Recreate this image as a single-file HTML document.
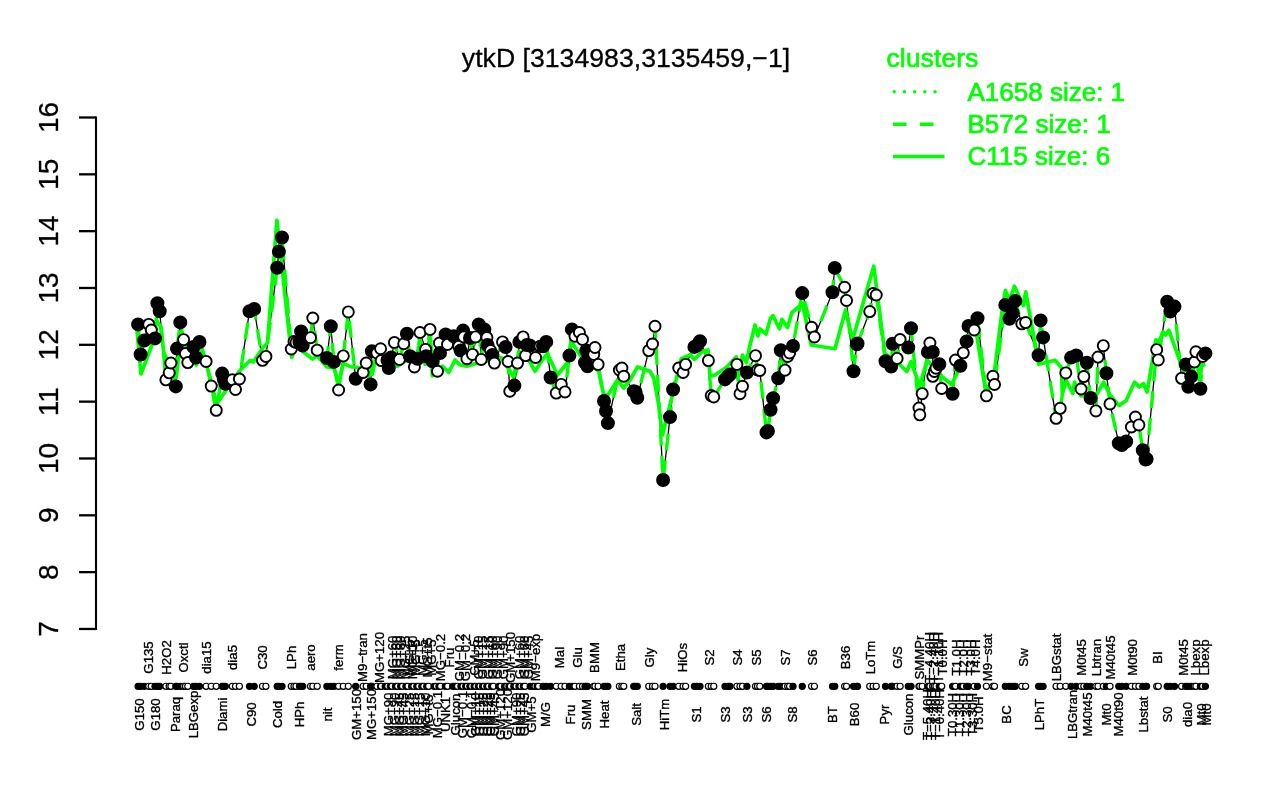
<!DOCTYPE html><html><head><meta charset="utf-8"><title>ytkD</title>
<style>html,body{margin:0;padding:0;background:#fff}svg{display:block}text{font-family:"Liberation Sans",Arial,Helvetica,sans-serif}.l{font-size:13.2px;fill:#000;stroke:#000;stroke-width:.35px}.a{font-size:28px;fill:#000;stroke:#000;stroke-width:.3px}.t{font-size:26.67px;fill:#000;stroke:#000;stroke-width:.3px}.g{font-size:26px;fill:#00ff00;stroke:#00ff00;stroke-width:.7px}</style></head><body>
<svg width="1280" height="800" viewBox="0 0 1280 800">
<rect width="1280" height="800" fill="#fff"/>
<text class="t" x="626" y="67.3" text-anchor="middle">ytkD [3134983,3135459,−1]</text>
<g stroke="#000" stroke-width="2.3" fill="none" stroke-linecap="butt">
<path d="M96 116.5 V629.97" stroke-width="2.1"/>
<path d="M79 117.5 H96"/>
<path d="M79 174.33 H96"/>
<path d="M79 231.16 H96"/>
<path d="M79 287.99 H96"/>
<path d="M79 344.82 H96"/>
<path d="M79 401.65 H96"/>
<path d="M79 458.48 H96"/>
<path d="M79 515.31 H96"/>
<path d="M79 572.14 H96"/>
<path d="M79 628.97 H96"/>
</g>
<text class="a" transform="translate(58.4 117.5) rotate(-90)" text-anchor="middle">16</text>
<text class="a" transform="translate(58.4 174.33) rotate(-90)" text-anchor="middle">15</text>
<text class="a" transform="translate(58.4 231.16) rotate(-90)" text-anchor="middle">14</text>
<text class="a" transform="translate(58.4 287.99) rotate(-90)" text-anchor="middle">13</text>
<text class="a" transform="translate(58.4 344.82) rotate(-90)" text-anchor="middle">12</text>
<text class="a" transform="translate(58.4 401.65) rotate(-90)" text-anchor="middle">11</text>
<text class="a" transform="translate(58.4 458.48) rotate(-90)" text-anchor="middle">10</text>
<text class="a" transform="translate(58.4 515.31) rotate(-90)" text-anchor="middle">9</text>
<text class="a" transform="translate(58.4 572.14) rotate(-90)" text-anchor="middle">8</text>
<text class="a" transform="translate(58.4 628.97) rotate(-90)" text-anchor="middle">7</text>
<text class="g" x="886.5" y="67" style="letter-spacing:.3px">clusters</text>
<text class="g" x="967.5" y="101.2">A1658 size: 1</text>
<text class="g" x="967.5" y="133">B572 size: 1</text>
<text class="g" x="967.5" y="165">C115 size: 6</text>
<g stroke="#00ff00" fill="none">
<path d="M894.2 91.8 H936" stroke-width="3.5" stroke-dasharray="0.01 10.2" stroke-linecap="round"/>
<path d="M893 124.3 H944.5" stroke-width="3.4" stroke-dasharray="13.5 13.5"/>
<path d="M893 156.5 H944.5" stroke-width="3.4"/>
</g>
<polyline points="138.1,324.4 140.6,354.5 144.2,340.5 148.75,324.4 151.3,330 155,338.4 157.4,303.3 159.7,311.2 165.9,379.8 169.2,372.8 170.9,363 175.8,386.4 177,348.6 180.3,322.4 183.6,339.7 185.5,353.6 187.8,362.6 193.5,347 196,357.5 199.5,342 206.1,361.4 211.25,386.1 216.25,410.3 222.2,373.6 223.75,379 225.3,383.75 232.3,379.8 235.5,389.5 239.4,379 249.5,311.2 254.2,309 262.5,360.3 265.9,356.4 277.2,267.7 278.9,251.6 282,237.5 291.3,349 294,341.5 296,342.5 299.5,342.3 301.1,331.4 302.7,345.5 310.5,337.7 312.8,318.1 317.2,350.2 326.9,358 330.8,326.25 333.9,361.9 338.6,390 343.3,355.9 348.3,311.9 355.7,378.75 363.1,372.5 366.25,363.1 370.6,384.4 371.9,351.25 376.9,353 380.6,348.75 381.25,360.6 387.5,360 388.75,368 391.25,357.5 394.4,342.5 399.4,359.4 403.75,343.75 406.9,333.75 410,356.25 414.4,366.9 417.5,358.75 420,332.5 425.6,349.4 426.25,356.25 430,329.4 432.5,361.25 437.5,371.25 439.4,343 440,353 445.6,334.4 447.5,344.4 453.75,336.25 458.75,346.25 460.6,350.6 463.1,330.6 463.75,336.9 466.9,358.75 470,338 472.5,354.4 475.6,336.9 478.75,324.4 481.25,359.4 484.4,329.4 486.9,337.5 487.5,345 490.6,350.6 492.5,355 494.4,363.1 502.5,341.9 505.6,347 508.1,361.5 509.8,391.25 514.4,385.6 517.5,363.1 519.4,341.9 523.1,336.9 525.6,355.6 526.9,345 530,345.6 535.6,357.5 540,346.25 543.1,346.25 546.25,341.9 550.6,377.5 556.25,393.1 561.25,384.4 565,391.9 569.4,355.6 571.9,329.4 575,336.25 579.4,332.5 582.5,339.4 585,362.5 586.25,350.6 587.5,366.25 593.75,354.4 595,347.5 598.1,364.4 604,401 606,411 607.9,423.1 619.4,370 621.9,368 623.75,376.25 633.75,391.25 635.6,391.9 637.3,397.8 648.75,350.6 652.5,344 655,326.25 663.1,480 670,417.1 673.1,389.5 678.75,368 683.1,372.5 685.6,364.4 694.4,346.9 696.9,345.6 700,341.25 708.4,360.6 711.25,395.6 713.75,396.9 725,379.4 728.1,376.25 730,374.4 736.9,364.4 740,393.75 742.5,386.25 746.9,372.5 755.5,355.7 757.5,370 759.8,370.5 766.5,432.4 767.9,431 770.6,409.7 773.1,398.3 778.2,378.3 780.8,350.3 785,370.2 787.7,356.5 789.6,353 793,346 802.25,293.1 811.6,327.25 814.4,337 832.5,292.25 834.75,267.9 844.6,287.25 846.5,300.4 853.5,371.2 856.9,344.2 857.5,343.5 869.75,311.6 873.1,293.5 876.25,295 885.5,361.2 891.2,366.5 892.6,343.7 897.1,358.4 900.1,339.5 908.3,347.5 911,328.3 919,408 919.8,414.8 922.2,393.7 927.9,352 929.9,343 932.8,352 932.8,376.3 934.4,371.5 936,368.2 939.3,364.2 941.7,388.5 952.6,393.7 955.5,360.1 960.4,365.8 963.3,352.8 966.6,341.4 968.5,326 974.2,330 977.5,318.2 986.4,395.8 992.9,376.3 994.5,384.5 1005.3,304.9 1009.5,318.7 1012.7,313 1015.2,300.9 1021.8,323.8 1025.6,322.6 1038.6,355.3 1040.6,320.4 1043.1,337.4 1056.1,418.3 1060.2,408.3 1065.8,372.9 1071.1,357.6 1076.2,355.5 1081.1,389 1083.8,376.6 1086.8,362.7 1090.6,398 1095.9,410.9 1098,357.1 1103.3,345.7 1106.4,373.2 1110,403.9 1118.8,443.3 1121.8,445 1126.2,441.5 1131.4,427 1135.4,417 1138.9,424.9 1142.8,450.3 1145.5,459.5 1146.6,459 1156.7,349.7 1158.3,359.9 1167.2,301.7 1170.4,311.5 1174.5,306.6 1181.6,378.3 1185.8,364.4 1188.3,386.7 1191.2,376.6 1194.5,361.9 1195.9,351.8 1200.4,388.7 1202.6,356.4 1205.4,353.4" fill="none" stroke="#000" stroke-width="1.3" stroke-linejoin="round"/>
<polyline points="138.1,324.4 140.6,354.5 144.2,340.5 148.75,324.4 151.3,330 155,338.4 157.4,303.3 159.7,311.2 165.9,379.8 169.2,372.8 170.9,363 175.8,386.4 177,348.6 180.3,322.4 183.6,339.7 185.5,353.6 187.8,362.6 193.5,347 196,357.5 199.5,342 206.1,361.4 211.25,386.1 216.25,410.3 222.2,373.6 223.75,379 225.3,383.75 232.3,379.8 235.5,389.5 239.4,379 249.5,311.2 254.2,309 262.5,360.3 265.9,356.4 277.2,267.7 278.9,251.6 282,237.5 291.3,349 294,341.5 296,342.5 299.5,342.3 301.1,331.4 302.7,345.5 310.5,337.7 312.8,318.1 317.2,350.2 326.9,358 330.8,326.25 333.9,361.9 338.6,390 343.3,355.9 348.3,311.9 355.7,378.75 363.1,372.5 366.25,363.1 370.6,384.4 371.9,351.25 376.9,353 380.6,348.75 381.25,360.6 387.5,360 388.75,368 391.25,357.5 394.4,342.5 399.4,359.4 403.75,343.75 406.9,333.75 410,356.25 414.4,366.9 417.5,358.75 420,332.5 425.6,349.4 426.25,356.25 430,329.4 432.5,361.25 437.5,371.25 439.4,343 440,353 445.6,334.4 447.5,344.4 453.75,336.25 458.75,346.25 460.6,350.6 463.1,330.6 463.75,336.9 466.9,358.75 470,338 472.5,354.4 475.6,336.9 478.75,324.4 481.25,359.4 484.4,329.4 486.9,337.5 487.5,345 490.6,350.6 492.5,355 494.4,363.1 502.5,341.9 505.6,347 508.1,361.5 509.8,391.25 514.4,385.6 517.5,363.1 519.4,341.9 523.1,336.9 525.6,355.6 526.9,345 530,345.6 535.6,357.5 540,346.25 543.1,346.25 546.25,341.9 550.6,377.5 556.25,393.1 561.25,384.4 565,391.9 569.4,355.6 571.9,329.4 575,336.25 579.4,332.5 582.5,339.4 585,362.5 586.25,350.6 587.5,366.25 593.75,354.4 595,347.5 598.1,364.4 604,401 606,411 607.9,423.1 619.4,370 621.9,368 623.75,376.25 633.75,391.25 635.6,391.9 637.3,397.8 648.75,350.6 652.5,344 655,326.25 663.1,480 670,417.1 673.1,389.5 678.75,368 683.1,372.5 685.6,364.4 694.4,346.9 696.9,345.6 700,341.25 708.4,360.6 711.25,395.6 713.75,396.9 725,379.4 728.1,376.25 730,374.4 736.9,364.4 740,393.75 742.5,386.25 746.9,372.5 755.5,355.7 757.5,370 759.8,370.5 766.5,432.4 767.9,431 770.6,409.7 773.1,398.3 778.2,378.3 780.8,350.3 785,370.2 787.7,356.5 789.6,353 793,346 802.25,293.1 811.6,327.25 814.4,337 832.5,292.25 834.75,267.9 844.6,287.25 846.5,300.4 853.5,371.2 856.9,344.2 857.5,343.5 869.75,311.6 873.1,293.5 876.25,295 885.5,361.2 891.2,366.5 892.6,343.7 897.1,358.4 900.1,339.5 908.3,347.5 911,328.3 919,408 919.8,414.8 922.2,393.7 927.9,352 929.9,343 932.8,352 932.8,376.3 934.4,371.5 936,368.2 939.3,364.2 941.7,388.5 952.6,393.7 955.5,360.1 960.4,365.8 963.3,352.8 966.6,341.4 968.5,326 974.2,330 977.5,318.2 986.4,395.8 992.9,376.3 994.5,384.5 1005.3,304.9 1009.5,318.7 1012.7,313 1015.2,300.9 1021.8,323.8 1025.6,322.6 1038.6,355.3 1040.6,320.4 1043.1,337.4 1056.1,418.3 1060.2,408.3 1065.8,372.9 1071.1,357.6 1076.2,355.5 1081.1,389 1083.8,376.6 1086.8,362.7 1090.6,398 1095.9,410.9 1098,357.1 1103.3,345.7 1106.4,373.2 1110,403.9 1118.8,443.3 1121.8,445 1126.2,441.5 1131.4,427 1135.4,417 1138.9,424.9 1142.8,450.3 1145.5,459.5 1146.6,459 1156.7,349.7 1158.3,359.9 1167.2,301.7 1170.4,311.5 1174.5,306.6 1181.6,378.3 1185.8,364.4 1188.3,386.7 1191.2,376.6 1194.5,361.9 1195.9,351.8 1200.4,388.7 1202.6,356.4 1205.4,353.4" fill="none" stroke="#00ff00" stroke-width="3.4" stroke-dasharray="16.9 10.1" stroke-linejoin="round"/>
<polyline points="137,330 141,374 151.9,345 156.25,320 160.6,326.25 163.75,352.5 176.25,377.5 181.25,331.25 185.6,347.5 196.25,365 202.5,350 210,377.5 216.7,404 239.4,371 250.3,360.3 253.4,361.9 262.8,347.8 267.5,343 276.9,220.3 291.7,357.2 297.2,344.7 303.4,352 312.5,359 317.5,356 326.9,367 333.9,368 338.6,383.75 343.3,363.4 350.3,366.6 358.75,367.5 372.2,374.4 375.3,360.3 397.5,366.3 417.5,352.5 420.3,340 425.2,364.4 430.5,338 432.4,376 442.5,366.25 448.75,372.5 455,360 460,365 466.9,366.25 475,363.75 501.25,357.5 508.75,368.75 513.75,377.5 518.75,351.25 529.4,361.25 535,371.25 543.1,358.75 547.5,353.75 557.5,375 567.5,362.5 571.25,341.25 580,355 598.75,371.25 603.75,395 608,395 617.5,380 623.75,388 630,380 637.5,366.9 650,371.25 653.75,378 658.75,405 662.5,435 668.75,410 681.25,358.75 690,355 694.4,359.4 702.5,351.25 708,350 710,376.25 715,375 726.25,367.5 736.25,356.9 738,380 742.5,355 746.25,362.5 750,345 755,325 758,336 760,329 766,334 770.6,318 773,315.6 779.4,328.75 781.9,319.4 787.5,327.5 791.9,312.5 802.5,303.75 811.25,345 835,348.75 845.6,310 852.5,340 873.75,266.25 884.9,353.6 900.3,365 906.8,371.5 910.9,361.7 919.8,386 927.1,360.1 941.7,376.3 951.5,384.5 958,371.5 966,337.4 975.8,329.2 985.6,391 993.7,378 1001.8,313 1005.4,290.3 1009.5,300.9 1014.4,286.2 1023.3,305.7 1025.7,291.9 1038.7,364.2 1055,360.2 1061.5,367.5 1062.3,393.5 1066.3,380.5 1072.8,393.5 1074.5,382.1 1081,396 1097.2,393.5 1103.7,382.1 1110.2,395.1 1119.2,405.6 1126.2,400.4 1134.6,382.1 1139.4,387 1143.5,383.7 1147.2,392 1155.8,339.9 1159,341.5 1163.1,331.8 1165.5,335 1168.8,330.2 1183.4,370.8 1192,368 1199.7,380.6 1201.3,366 1205.4,364.3" fill="none" stroke="#00ff00" stroke-width="3.7" stroke-linejoin="round"/>
<g stroke="#000" stroke-width="1.9">
<circle cx="138.1" cy="324.4" r="6.05" fill="#000"/>
<circle cx="140.6" cy="354.5" r="6.05" fill="#000"/>
<circle cx="144.2" cy="340.5" r="6.05" fill="#000"/>
<circle cx="148.75" cy="324.4" r="5.55" fill="#fff"/>
<circle cx="151.3" cy="330" r="5.55" fill="#fff"/>
<circle cx="155" cy="338.4" r="6.05" fill="#000"/>
<circle cx="157.4" cy="303.3" r="6.05" fill="#000"/>
<circle cx="159.7" cy="311.2" r="6.05" fill="#000"/>
<circle cx="165.9" cy="379.8" r="5.55" fill="#fff"/>
<circle cx="169.2" cy="372.8" r="5.55" fill="#fff"/>
<circle cx="170.9" cy="363" r="5.55" fill="#fff"/>
<circle cx="175.8" cy="386.4" r="6.05" fill="#000"/>
<circle cx="177" cy="348.6" r="6.05" fill="#000"/>
<circle cx="180.3" cy="322.4" r="6.05" fill="#000"/>
<circle cx="183.6" cy="339.7" r="5.55" fill="#fff"/>
<circle cx="185.5" cy="353.6" r="5.55" fill="#fff"/>
<circle cx="187.8" cy="362.6" r="5.55" fill="#fff"/>
<circle cx="193.5" cy="347" r="6.05" fill="#000"/>
<circle cx="196" cy="357.5" r="6.05" fill="#000"/>
<circle cx="199.5" cy="342" r="6.05" fill="#000"/>
<circle cx="206.1" cy="361.4" r="5.55" fill="#fff"/>
<circle cx="211.25" cy="386.1" r="5.55" fill="#fff"/>
<circle cx="216.25" cy="410.3" r="5.55" fill="#fff"/>
<circle cx="222.2" cy="373.6" r="6.05" fill="#000"/>
<circle cx="223.75" cy="379" r="6.05" fill="#000"/>
<circle cx="225.3" cy="383.75" r="6.05" fill="#000"/>
<circle cx="232.3" cy="379.8" r="5.55" fill="#fff"/>
<circle cx="235.5" cy="389.5" r="5.55" fill="#fff"/>
<circle cx="239.4" cy="379" r="5.55" fill="#fff"/>
<circle cx="249.5" cy="311.2" r="6.05" fill="#000"/>
<circle cx="254.2" cy="309" r="6.05" fill="#000"/>
<circle cx="262.5" cy="360.3" r="5.55" fill="#fff"/>
<circle cx="265.9" cy="356.4" r="5.55" fill="#fff"/>
<circle cx="277.2" cy="267.7" r="6.05" fill="#000"/>
<circle cx="278.9" cy="251.6" r="6.05" fill="#000"/>
<circle cx="282" cy="237.5" r="6.05" fill="#000"/>
<circle cx="291.3" cy="349" r="5.55" fill="#fff"/>
<circle cx="294" cy="341.5" r="5.55" fill="#fff"/>
<circle cx="296" cy="342.5" r="5.55" fill="#fff"/>
<circle cx="299.5" cy="342.3" r="6.05" fill="#000"/>
<circle cx="301.1" cy="331.4" r="6.05" fill="#000"/>
<circle cx="302.7" cy="345.5" r="6.05" fill="#000"/>
<circle cx="310.5" cy="337.7" r="5.55" fill="#fff"/>
<circle cx="312.8" cy="318.1" r="5.55" fill="#fff"/>
<circle cx="317.2" cy="350.2" r="5.55" fill="#fff"/>
<circle cx="326.9" cy="358" r="6.05" fill="#000"/>
<circle cx="330.8" cy="326.25" r="6.05" fill="#000"/>
<circle cx="333.9" cy="361.9" r="6.05" fill="#000"/>
<circle cx="338.6" cy="390" r="5.55" fill="#fff"/>
<circle cx="343.3" cy="355.9" r="5.55" fill="#fff"/>
<circle cx="348.3" cy="311.9" r="5.55" fill="#fff"/>
<circle cx="355.7" cy="378.75" r="6.05" fill="#000"/>
<circle cx="363.1" cy="372.5" r="5.55" fill="#fff"/>
<circle cx="366.25" cy="363.1" r="5.55" fill="#fff"/>
<circle cx="370.6" cy="384.4" r="6.05" fill="#000"/>
<circle cx="371.9" cy="351.25" r="6.05" fill="#000"/>
<circle cx="376.9" cy="353" r="5.55" fill="#fff"/>
<circle cx="380.6" cy="348.75" r="5.55" fill="#fff"/>
<circle cx="381.25" cy="360.6" r="5.55" fill="#fff"/>
<circle cx="387.5" cy="360" r="6.05" fill="#000"/>
<circle cx="388.75" cy="368" r="6.05" fill="#000"/>
<circle cx="391.25" cy="357.5" r="6.05" fill="#000"/>
<circle cx="394.4" cy="342.5" r="5.55" fill="#fff"/>
<circle cx="399.4" cy="359.4" r="5.55" fill="#fff"/>
<circle cx="403.75" cy="343.75" r="5.55" fill="#fff"/>
<circle cx="406.9" cy="333.75" r="6.05" fill="#000"/>
<circle cx="410" cy="356.25" r="6.05" fill="#000"/>
<circle cx="414.4" cy="366.9" r="5.55" fill="#fff"/>
<circle cx="417.5" cy="358.75" r="6.05" fill="#000"/>
<circle cx="420" cy="332.5" r="5.55" fill="#fff"/>
<circle cx="425.6" cy="349.4" r="5.55" fill="#fff"/>
<circle cx="426.25" cy="356.25" r="6.05" fill="#000"/>
<circle cx="430" cy="329.4" r="5.55" fill="#fff"/>
<circle cx="432.5" cy="361.25" r="6.05" fill="#000"/>
<circle cx="437.5" cy="371.25" r="5.55" fill="#fff"/>
<circle cx="439.4" cy="343" r="5.55" fill="#fff"/>
<circle cx="440" cy="353" r="6.05" fill="#000"/>
<circle cx="445.6" cy="334.4" r="6.05" fill="#000"/>
<circle cx="447.5" cy="344.4" r="5.55" fill="#fff"/>
<circle cx="453.75" cy="336.25" r="6.05" fill="#000"/>
<circle cx="458.75" cy="346.25" r="5.55" fill="#fff"/>
<circle cx="460.6" cy="350.6" r="6.05" fill="#000"/>
<circle cx="463.1" cy="330.6" r="6.05" fill="#000"/>
<circle cx="463.75" cy="336.9" r="5.55" fill="#fff"/>
<circle cx="466.9" cy="358.75" r="5.55" fill="#fff"/>
<circle cx="470" cy="338" r="6.05" fill="#000"/>
<circle cx="472.5" cy="354.4" r="5.55" fill="#fff"/>
<circle cx="475.6" cy="336.9" r="5.55" fill="#fff"/>
<circle cx="478.75" cy="324.4" r="6.05" fill="#000"/>
<circle cx="481.25" cy="359.4" r="5.55" fill="#fff"/>
<circle cx="484.4" cy="329.4" r="6.05" fill="#000"/>
<circle cx="486.9" cy="337.5" r="5.55" fill="#fff"/>
<circle cx="487.5" cy="345" r="6.05" fill="#000"/>
<circle cx="490.6" cy="350.6" r="5.55" fill="#fff"/>
<circle cx="492.5" cy="355" r="6.05" fill="#000"/>
<circle cx="494.4" cy="363.1" r="5.55" fill="#fff"/>
<circle cx="502.5" cy="341.9" r="5.55" fill="#fff"/>
<circle cx="505.6" cy="347" r="6.05" fill="#000"/>
<circle cx="508.1" cy="361.5" r="5.55" fill="#fff"/>
<circle cx="509.8" cy="391.25" r="5.55" fill="#fff"/>
<circle cx="514.4" cy="385.6" r="6.05" fill="#000"/>
<circle cx="517.5" cy="363.1" r="5.55" fill="#fff"/>
<circle cx="519.4" cy="341.9" r="6.05" fill="#000"/>
<circle cx="523.1" cy="336.9" r="5.55" fill="#fff"/>
<circle cx="525.6" cy="355.6" r="5.55" fill="#fff"/>
<circle cx="526.9" cy="345" r="6.05" fill="#000"/>
<circle cx="530" cy="345.6" r="6.05" fill="#000"/>
<circle cx="535.6" cy="357.5" r="5.55" fill="#fff"/>
<circle cx="540" cy="346.25" r="5.55" fill="#fff"/>
<circle cx="543.1" cy="346.25" r="6.05" fill="#000"/>
<circle cx="546.25" cy="341.9" r="6.05" fill="#000"/>
<circle cx="550.6" cy="377.5" r="6.05" fill="#000"/>
<circle cx="556.25" cy="393.1" r="5.55" fill="#fff"/>
<circle cx="561.25" cy="384.4" r="5.55" fill="#fff"/>
<circle cx="565" cy="391.9" r="5.55" fill="#fff"/>
<circle cx="569.4" cy="355.6" r="6.05" fill="#000"/>
<circle cx="571.9" cy="329.4" r="6.05" fill="#000"/>
<circle cx="575" cy="336.25" r="5.55" fill="#fff"/>
<circle cx="579.4" cy="332.5" r="5.55" fill="#fff"/>
<circle cx="582.5" cy="339.4" r="5.55" fill="#fff"/>
<circle cx="585" cy="362.5" r="6.05" fill="#000"/>
<circle cx="586.25" cy="350.6" r="6.05" fill="#000"/>
<circle cx="587.5" cy="366.25" r="6.05" fill="#000"/>
<circle cx="593.75" cy="354.4" r="5.55" fill="#fff"/>
<circle cx="595" cy="347.5" r="5.55" fill="#fff"/>
<circle cx="598.1" cy="364.4" r="5.55" fill="#fff"/>
<circle cx="604" cy="401" r="6.05" fill="#000"/>
<circle cx="606" cy="411" r="6.05" fill="#000"/>
<circle cx="607.9" cy="423.1" r="6.05" fill="#000"/>
<circle cx="619.4" cy="370" r="5.55" fill="#fff"/>
<circle cx="621.9" cy="368" r="5.55" fill="#fff"/>
<circle cx="623.75" cy="376.25" r="5.55" fill="#fff"/>
<circle cx="633.75" cy="391.25" r="6.05" fill="#000"/>
<circle cx="635.6" cy="391.9" r="6.05" fill="#000"/>
<circle cx="637.3" cy="397.8" r="6.05" fill="#000"/>
<circle cx="648.75" cy="350.6" r="5.55" fill="#fff"/>
<circle cx="652.5" cy="344" r="5.55" fill="#fff"/>
<circle cx="655" cy="326.25" r="5.55" fill="#fff"/>
<circle cx="663.1" cy="480" r="6.05" fill="#000"/>
<circle cx="670" cy="417.1" r="6.05" fill="#000"/>
<circle cx="673.1" cy="389.5" r="6.05" fill="#000"/>
<circle cx="678.75" cy="368" r="5.55" fill="#fff"/>
<circle cx="683.1" cy="372.5" r="5.55" fill="#fff"/>
<circle cx="685.6" cy="364.4" r="5.55" fill="#fff"/>
<circle cx="694.4" cy="346.9" r="6.05" fill="#000"/>
<circle cx="696.9" cy="345.6" r="6.05" fill="#000"/>
<circle cx="700" cy="341.25" r="6.05" fill="#000"/>
<circle cx="708.4" cy="360.6" r="5.55" fill="#fff"/>
<circle cx="711.25" cy="395.6" r="5.55" fill="#fff"/>
<circle cx="713.75" cy="396.9" r="5.55" fill="#fff"/>
<circle cx="725" cy="379.4" r="6.05" fill="#000"/>
<circle cx="728.1" cy="376.25" r="6.05" fill="#000"/>
<circle cx="730" cy="374.4" r="6.05" fill="#000"/>
<circle cx="736.9" cy="364.4" r="5.55" fill="#fff"/>
<circle cx="740" cy="393.75" r="5.55" fill="#fff"/>
<circle cx="742.5" cy="386.25" r="5.55" fill="#fff"/>
<circle cx="746.9" cy="372.5" r="6.05" fill="#000"/>
<circle cx="755.5" cy="355.7" r="5.55" fill="#fff"/>
<circle cx="757.5" cy="370" r="5.55" fill="#fff"/>
<circle cx="759.8" cy="370.5" r="5.55" fill="#fff"/>
<circle cx="766.5" cy="432.4" r="6.05" fill="#000"/>
<circle cx="767.9" cy="431" r="6.05" fill="#000"/>
<circle cx="770.6" cy="409.7" r="6.05" fill="#000"/>
<circle cx="773.1" cy="398.3" r="6.05" fill="#000"/>
<circle cx="778.2" cy="378.3" r="6.05" fill="#000"/>
<circle cx="780.8" cy="350.3" r="6.05" fill="#000"/>
<circle cx="785" cy="370.2" r="5.55" fill="#fff"/>
<circle cx="787.7" cy="356.5" r="5.55" fill="#fff"/>
<circle cx="789.6" cy="353" r="5.55" fill="#fff"/>
<circle cx="793" cy="346" r="6.05" fill="#000"/>
<circle cx="802.25" cy="293.1" r="6.05" fill="#000"/>
<circle cx="811.6" cy="327.25" r="5.55" fill="#fff"/>
<circle cx="814.4" cy="337" r="5.55" fill="#fff"/>
<circle cx="832.5" cy="292.25" r="6.05" fill="#000"/>
<circle cx="834.75" cy="267.9" r="6.05" fill="#000"/>
<circle cx="844.6" cy="287.25" r="5.55" fill="#fff"/>
<circle cx="846.5" cy="300.4" r="5.55" fill="#fff"/>
<circle cx="853.5" cy="371.2" r="6.05" fill="#000"/>
<circle cx="856.9" cy="344.2" r="6.05" fill="#000"/>
<circle cx="857.5" cy="343.5" r="6.05" fill="#000"/>
<circle cx="869.75" cy="311.6" r="5.55" fill="#fff"/>
<circle cx="873.1" cy="293.5" r="5.55" fill="#fff"/>
<circle cx="876.25" cy="295" r="5.55" fill="#fff"/>
<circle cx="885.5" cy="361.2" r="6.05" fill="#000"/>
<circle cx="891.2" cy="366.5" r="6.05" fill="#000"/>
<circle cx="892.6" cy="343.7" r="6.05" fill="#000"/>
<circle cx="897.1" cy="358.4" r="5.55" fill="#fff"/>
<circle cx="900.1" cy="339.5" r="5.55" fill="#fff"/>
<circle cx="908.3" cy="347.5" r="6.05" fill="#000"/>
<circle cx="911" cy="328.3" r="6.05" fill="#000"/>
<circle cx="919" cy="408" r="5.55" fill="#fff"/>
<circle cx="919.8" cy="414.8" r="5.55" fill="#fff"/>
<circle cx="922.2" cy="393.7" r="5.55" fill="#fff"/>
<circle cx="927.9" cy="352" r="6.05" fill="#000"/>
<circle cx="929.9" cy="343" r="5.55" fill="#fff"/>
<circle cx="932.8" cy="352" r="6.05" fill="#000"/>
<circle cx="932.8" cy="376.3" r="5.55" fill="#fff"/>
<circle cx="934.4" cy="371.5" r="5.55" fill="#fff"/>
<circle cx="936" cy="368.2" r="5.55" fill="#fff"/>
<circle cx="939.3" cy="364.2" r="6.05" fill="#000"/>
<circle cx="941.7" cy="388.5" r="5.55" fill="#fff"/>
<circle cx="952.6" cy="393.7" r="6.05" fill="#000"/>
<circle cx="955.5" cy="360.1" r="5.55" fill="#fff"/>
<circle cx="960.4" cy="365.8" r="6.05" fill="#000"/>
<circle cx="963.3" cy="352.8" r="5.55" fill="#fff"/>
<circle cx="966.6" cy="341.4" r="6.05" fill="#000"/>
<circle cx="968.5" cy="326" r="6.05" fill="#000"/>
<circle cx="974.2" cy="330" r="5.55" fill="#fff"/>
<circle cx="977.5" cy="318.2" r="6.05" fill="#000"/>
<circle cx="986.4" cy="395.8" r="5.55" fill="#fff"/>
<circle cx="992.9" cy="376.3" r="5.55" fill="#fff"/>
<circle cx="994.5" cy="384.5" r="5.55" fill="#fff"/>
<circle cx="1005.3" cy="304.9" r="6.05" fill="#000"/>
<circle cx="1009.5" cy="318.7" r="6.05" fill="#000"/>
<circle cx="1012.7" cy="313" r="6.05" fill="#000"/>
<circle cx="1015.2" cy="300.9" r="6.05" fill="#000"/>
<circle cx="1021.8" cy="323.8" r="5.55" fill="#fff"/>
<circle cx="1025.6" cy="322.6" r="5.55" fill="#fff"/>
<circle cx="1038.6" cy="355.3" r="6.05" fill="#000"/>
<circle cx="1040.6" cy="320.4" r="6.05" fill="#000"/>
<circle cx="1043.1" cy="337.4" r="6.05" fill="#000"/>
<circle cx="1056.1" cy="418.3" r="5.55" fill="#fff"/>
<circle cx="1060.2" cy="408.3" r="5.55" fill="#fff"/>
<circle cx="1065.8" cy="372.9" r="5.55" fill="#fff"/>
<circle cx="1071.1" cy="357.6" r="6.05" fill="#000"/>
<circle cx="1076.2" cy="355.5" r="6.05" fill="#000"/>
<circle cx="1081.1" cy="389" r="5.55" fill="#fff"/>
<circle cx="1083.8" cy="376.6" r="5.55" fill="#fff"/>
<circle cx="1086.8" cy="362.7" r="6.05" fill="#000"/>
<circle cx="1090.6" cy="398" r="6.05" fill="#000"/>
<circle cx="1095.9" cy="410.9" r="5.55" fill="#fff"/>
<circle cx="1098" cy="357.1" r="5.55" fill="#fff"/>
<circle cx="1103.3" cy="345.7" r="5.55" fill="#fff"/>
<circle cx="1106.4" cy="373.2" r="6.05" fill="#000"/>
<circle cx="1110" cy="403.9" r="5.55" fill="#fff"/>
<circle cx="1118.8" cy="443.3" r="6.05" fill="#000"/>
<circle cx="1121.8" cy="445" r="6.05" fill="#000"/>
<circle cx="1126.2" cy="441.5" r="6.05" fill="#000"/>
<circle cx="1131.4" cy="427" r="5.55" fill="#fff"/>
<circle cx="1135.4" cy="417" r="5.55" fill="#fff"/>
<circle cx="1138.9" cy="424.9" r="5.55" fill="#fff"/>
<circle cx="1142.8" cy="450.3" r="6.05" fill="#000"/>
<circle cx="1145.5" cy="459.5" r="6.05" fill="#000"/>
<circle cx="1146.6" cy="459" r="6.05" fill="#000"/>
<circle cx="1156.7" cy="349.7" r="5.55" fill="#fff"/>
<circle cx="1158.3" cy="359.9" r="5.55" fill="#fff"/>
<circle cx="1167.2" cy="301.7" r="6.05" fill="#000"/>
<circle cx="1170.4" cy="311.5" r="6.05" fill="#000"/>
<circle cx="1174.5" cy="306.6" r="6.05" fill="#000"/>
<circle cx="1181.6" cy="378.3" r="5.55" fill="#fff"/>
<circle cx="1185.8" cy="364.4" r="6.05" fill="#000"/>
<circle cx="1188.3" cy="386.7" r="6.05" fill="#000"/>
<circle cx="1191.2" cy="376.6" r="6.05" fill="#000"/>
<circle cx="1194.5" cy="361.9" r="5.55" fill="#fff"/>
<circle cx="1195.9" cy="351.8" r="5.55" fill="#fff"/>
<circle cx="1200.4" cy="388.7" r="6.05" fill="#000"/>
<circle cx="1202.6" cy="356.4" r="5.55" fill="#fff"/>
<circle cx="1205.4" cy="353.4" r="6.05" fill="#000"/>
</g>
<g stroke="#000" stroke-width="1.2">
<circle cx="138.1" cy="686.3" r="3.05" fill="#000"/>
<circle cx="140.6" cy="686.3" r="3.05" fill="#000"/>
<circle cx="144.2" cy="686.3" r="3.05" fill="#000"/>
<circle cx="148.75" cy="686.3" r="3.05" fill="#fff"/>
<circle cx="151.3" cy="686.3" r="3.05" fill="#fff"/>
<circle cx="155" cy="686.3" r="3.05" fill="#000"/>
<circle cx="157.4" cy="686.3" r="3.05" fill="#000"/>
<circle cx="159.7" cy="686.3" r="3.05" fill="#000"/>
<circle cx="165.9" cy="686.3" r="3.05" fill="#fff"/>
<circle cx="169.2" cy="686.3" r="3.05" fill="#fff"/>
<circle cx="170.9" cy="686.3" r="3.05" fill="#fff"/>
<circle cx="175.8" cy="686.3" r="3.05" fill="#000"/>
<circle cx="177" cy="686.3" r="3.05" fill="#000"/>
<circle cx="180.3" cy="686.3" r="3.05" fill="#000"/>
<circle cx="183.6" cy="686.3" r="3.05" fill="#fff"/>
<circle cx="185.5" cy="686.3" r="3.05" fill="#fff"/>
<circle cx="187.8" cy="686.3" r="3.05" fill="#fff"/>
<circle cx="193.5" cy="686.3" r="3.05" fill="#000"/>
<circle cx="196" cy="686.3" r="3.05" fill="#000"/>
<circle cx="199.5" cy="686.3" r="3.05" fill="#000"/>
<circle cx="206.1" cy="686.3" r="3.05" fill="#fff"/>
<circle cx="211.25" cy="686.3" r="3.05" fill="#fff"/>
<circle cx="216.25" cy="686.3" r="3.05" fill="#fff"/>
<circle cx="222.2" cy="686.3" r="3.05" fill="#000"/>
<circle cx="223.75" cy="686.3" r="3.05" fill="#000"/>
<circle cx="225.3" cy="686.3" r="3.05" fill="#000"/>
<circle cx="232.3" cy="686.3" r="3.05" fill="#fff"/>
<circle cx="235.5" cy="686.3" r="3.05" fill="#fff"/>
<circle cx="239.4" cy="686.3" r="3.05" fill="#fff"/>
<circle cx="249.5" cy="686.3" r="3.05" fill="#000"/>
<circle cx="254.2" cy="686.3" r="3.05" fill="#000"/>
<circle cx="262.5" cy="686.3" r="3.05" fill="#fff"/>
<circle cx="265.9" cy="686.3" r="3.05" fill="#fff"/>
<circle cx="277.2" cy="686.3" r="3.05" fill="#000"/>
<circle cx="278.9" cy="686.3" r="3.05" fill="#000"/>
<circle cx="282" cy="686.3" r="3.05" fill="#000"/>
<circle cx="291.3" cy="686.3" r="3.05" fill="#fff"/>
<circle cx="294" cy="686.3" r="3.05" fill="#fff"/>
<circle cx="296" cy="686.3" r="3.05" fill="#fff"/>
<circle cx="299.5" cy="686.3" r="3.05" fill="#000"/>
<circle cx="301.1" cy="686.3" r="3.05" fill="#000"/>
<circle cx="302.7" cy="686.3" r="3.05" fill="#000"/>
<circle cx="310.5" cy="686.3" r="3.05" fill="#fff"/>
<circle cx="312.8" cy="686.3" r="3.05" fill="#fff"/>
<circle cx="317.2" cy="686.3" r="3.05" fill="#fff"/>
<circle cx="326.9" cy="686.3" r="3.05" fill="#000"/>
<circle cx="330.8" cy="686.3" r="3.05" fill="#000"/>
<circle cx="333.9" cy="686.3" r="3.05" fill="#000"/>
<circle cx="338.6" cy="686.3" r="3.05" fill="#fff"/>
<circle cx="343.3" cy="686.3" r="3.05" fill="#fff"/>
<circle cx="348.3" cy="686.3" r="3.05" fill="#fff"/>
<circle cx="355.7" cy="686.3" r="3.05" fill="#000"/>
<circle cx="363.1" cy="686.3" r="3.05" fill="#fff"/>
<circle cx="366.25" cy="686.3" r="3.05" fill="#fff"/>
<circle cx="370.6" cy="686.3" r="3.05" fill="#000"/>
<circle cx="371.9" cy="686.3" r="3.05" fill="#000"/>
<circle cx="376.9" cy="686.3" r="3.05" fill="#fff"/>
<circle cx="380.6" cy="686.3" r="3.05" fill="#fff"/>
<circle cx="381.25" cy="686.3" r="3.05" fill="#fff"/>
<circle cx="385.2" cy="686.3" r="3.05" fill="#000"/>
<circle cx="387.7" cy="686.3" r="3.05" fill="#fff"/>
<circle cx="390.37" cy="686.3" r="3.05" fill="#000"/>
<circle cx="392" cy="686.3" r="3.05" fill="#fff"/>
<circle cx="395.47" cy="686.3" r="3.05" fill="#000"/>
<circle cx="397.6" cy="686.3" r="3.05" fill="#fff"/>
<circle cx="400.64" cy="686.3" r="3.05" fill="#000"/>
<circle cx="402.5" cy="686.3" r="3.05" fill="#fff"/>
<circle cx="405.91" cy="686.3" r="3.05" fill="#000"/>
<circle cx="408" cy="686.3" r="3.05" fill="#fff"/>
<circle cx="411.6" cy="686.3" r="3.05" fill="#000"/>
<circle cx="413.8" cy="686.3" r="3.05" fill="#fff"/>
<circle cx="416.84" cy="686.3" r="3.05" fill="#000"/>
<circle cx="418.7" cy="686.3" r="3.05" fill="#fff"/>
<circle cx="421.8" cy="686.3" r="3.05" fill="#000"/>
<circle cx="423.7" cy="686.3" r="3.05" fill="#fff"/>
<circle cx="426.74" cy="686.3" r="3.05" fill="#000"/>
<circle cx="428.6" cy="686.3" r="3.05" fill="#fff"/>
<circle cx="434" cy="686.3" r="3.05" fill="#000"/>
<circle cx="436.3" cy="686.3" r="3.05" fill="#fff"/>
<circle cx="438.97" cy="686.3" r="3.05" fill="#000"/>
<circle cx="440.6" cy="686.3" r="3.05" fill="#fff"/>
<circle cx="445.3" cy="686.3" r="3.05" fill="#000"/>
<circle cx="447.6" cy="686.3" r="3.05" fill="#fff"/>
<circle cx="452.7" cy="686.3" r="3.05" fill="#000"/>
<circle cx="455.2" cy="686.3" r="3.05" fill="#000"/>
<circle cx="457.5" cy="686.3" r="3.05" fill="#fff"/>
<circle cx="460.91" cy="686.3" r="3.05" fill="#000"/>
<circle cx="463" cy="686.3" r="3.05" fill="#fff"/>
<circle cx="465.67" cy="686.3" r="3.05" fill="#000"/>
<circle cx="467.3" cy="686.3" r="3.05" fill="#fff"/>
<circle cx="469.9" cy="686.3" r="3.05" fill="#000"/>
<circle cx="471.5" cy="686.3" r="3.05" fill="#fff"/>
<circle cx="474.17" cy="686.3" r="3.05" fill="#000"/>
<circle cx="475.8" cy="686.3" r="3.05" fill="#fff"/>
<circle cx="478.4" cy="686.3" r="3.05" fill="#000"/>
<circle cx="480" cy="686.3" r="3.05" fill="#fff"/>
<circle cx="482.6" cy="686.3" r="3.05" fill="#000"/>
<circle cx="484.2" cy="686.3" r="3.05" fill="#fff"/>
<circle cx="486.87" cy="686.3" r="3.05" fill="#000"/>
<circle cx="488.5" cy="686.3" r="3.05" fill="#fff"/>
<circle cx="491.54" cy="686.3" r="3.05" fill="#000"/>
<circle cx="493.4" cy="686.3" r="3.05" fill="#fff"/>
<circle cx="498.7" cy="686.3" r="3.05" fill="#000"/>
<circle cx="501" cy="686.3" r="3.05" fill="#fff"/>
<circle cx="504.6" cy="686.3" r="3.05" fill="#000"/>
<circle cx="506.8" cy="686.3" r="3.05" fill="#fff"/>
<circle cx="508.97" cy="686.3" r="3.05" fill="#000"/>
<circle cx="510.3" cy="686.3" r="3.05" fill="#fff"/>
<circle cx="513.83" cy="686.3" r="3.05" fill="#000"/>
<circle cx="516" cy="686.3" r="3.05" fill="#fff"/>
<circle cx="518.98" cy="686.3" r="3.05" fill="#000"/>
<circle cx="520.8" cy="686.3" r="3.05" fill="#fff"/>
<circle cx="523.4" cy="686.3" r="3.05" fill="#000"/>
<circle cx="525" cy="686.3" r="3.05" fill="#fff"/>
<circle cx="530.2" cy="686.3" r="3.05" fill="#000"/>
<circle cx="532.7" cy="686.3" r="3.05" fill="#000"/>
<circle cx="535" cy="686.3" r="3.05" fill="#fff"/>
<circle cx="537.17" cy="686.3" r="3.05" fill="#000"/>
<circle cx="538.5" cy="686.3" r="3.05" fill="#fff"/>
<circle cx="543.1" cy="686.3" r="3.05" fill="#000"/>
<circle cx="546.25" cy="686.3" r="3.05" fill="#000"/>
<circle cx="550.6" cy="686.3" r="3.05" fill="#000"/>
<circle cx="556.25" cy="686.3" r="3.05" fill="#fff"/>
<circle cx="561.25" cy="686.3" r="3.05" fill="#fff"/>
<circle cx="565" cy="686.3" r="3.05" fill="#fff"/>
<circle cx="569.4" cy="686.3" r="3.05" fill="#000"/>
<circle cx="571.9" cy="686.3" r="3.05" fill="#000"/>
<circle cx="575" cy="686.3" r="3.05" fill="#fff"/>
<circle cx="579.4" cy="686.3" r="3.05" fill="#fff"/>
<circle cx="582.5" cy="686.3" r="3.05" fill="#fff"/>
<circle cx="585" cy="686.3" r="3.05" fill="#000"/>
<circle cx="586.25" cy="686.3" r="3.05" fill="#000"/>
<circle cx="587.5" cy="686.3" r="3.05" fill="#000"/>
<circle cx="593.75" cy="686.3" r="3.05" fill="#fff"/>
<circle cx="595" cy="686.3" r="3.05" fill="#fff"/>
<circle cx="598.1" cy="686.3" r="3.05" fill="#fff"/>
<circle cx="604" cy="686.3" r="3.05" fill="#000"/>
<circle cx="606" cy="686.3" r="3.05" fill="#000"/>
<circle cx="607.9" cy="686.3" r="3.05" fill="#000"/>
<circle cx="619.4" cy="686.3" r="3.05" fill="#fff"/>
<circle cx="621.9" cy="686.3" r="3.05" fill="#fff"/>
<circle cx="623.75" cy="686.3" r="3.05" fill="#fff"/>
<circle cx="633.75" cy="686.3" r="3.05" fill="#000"/>
<circle cx="635.6" cy="686.3" r="3.05" fill="#000"/>
<circle cx="637.3" cy="686.3" r="3.05" fill="#000"/>
<circle cx="648.75" cy="686.3" r="3.05" fill="#fff"/>
<circle cx="652.5" cy="686.3" r="3.05" fill="#fff"/>
<circle cx="655" cy="686.3" r="3.05" fill="#fff"/>
<circle cx="663.1" cy="686.3" r="3.05" fill="#000"/>
<circle cx="670" cy="686.3" r="3.05" fill="#000"/>
<circle cx="673.1" cy="686.3" r="3.05" fill="#000"/>
<circle cx="678.75" cy="686.3" r="3.05" fill="#fff"/>
<circle cx="683.1" cy="686.3" r="3.05" fill="#fff"/>
<circle cx="685.6" cy="686.3" r="3.05" fill="#fff"/>
<circle cx="694.4" cy="686.3" r="3.05" fill="#000"/>
<circle cx="696.9" cy="686.3" r="3.05" fill="#000"/>
<circle cx="700" cy="686.3" r="3.05" fill="#000"/>
<circle cx="708.4" cy="686.3" r="3.05" fill="#fff"/>
<circle cx="711.25" cy="686.3" r="3.05" fill="#fff"/>
<circle cx="713.75" cy="686.3" r="3.05" fill="#fff"/>
<circle cx="725" cy="686.3" r="3.05" fill="#000"/>
<circle cx="728.1" cy="686.3" r="3.05" fill="#000"/>
<circle cx="730" cy="686.3" r="3.05" fill="#000"/>
<circle cx="736.9" cy="686.3" r="3.05" fill="#fff"/>
<circle cx="740" cy="686.3" r="3.05" fill="#fff"/>
<circle cx="742.5" cy="686.3" r="3.05" fill="#fff"/>
<circle cx="746.9" cy="686.3" r="3.05" fill="#000"/>
<circle cx="755.5" cy="686.3" r="3.05" fill="#fff"/>
<circle cx="757.5" cy="686.3" r="3.05" fill="#fff"/>
<circle cx="759.8" cy="686.3" r="3.05" fill="#fff"/>
<circle cx="766.5" cy="686.3" r="3.05" fill="#000"/>
<circle cx="767.9" cy="686.3" r="3.05" fill="#000"/>
<circle cx="770.6" cy="686.3" r="3.05" fill="#000"/>
<circle cx="773.1" cy="686.3" r="3.05" fill="#000"/>
<circle cx="778.2" cy="686.3" r="3.05" fill="#000"/>
<circle cx="780.8" cy="686.3" r="3.05" fill="#000"/>
<circle cx="785" cy="686.3" r="3.05" fill="#fff"/>
<circle cx="787.7" cy="686.3" r="3.05" fill="#fff"/>
<circle cx="789.6" cy="686.3" r="3.05" fill="#fff"/>
<circle cx="793" cy="686.3" r="3.05" fill="#000"/>
<circle cx="802.25" cy="686.3" r="3.05" fill="#000"/>
<circle cx="811.6" cy="686.3" r="3.05" fill="#fff"/>
<circle cx="814.4" cy="686.3" r="3.05" fill="#fff"/>
<circle cx="832.5" cy="686.3" r="3.05" fill="#000"/>
<circle cx="834.75" cy="686.3" r="3.05" fill="#000"/>
<circle cx="844.6" cy="686.3" r="3.05" fill="#fff"/>
<circle cx="846.5" cy="686.3" r="3.05" fill="#fff"/>
<circle cx="853.5" cy="686.3" r="3.05" fill="#000"/>
<circle cx="856.9" cy="686.3" r="3.05" fill="#000"/>
<circle cx="857.5" cy="686.3" r="3.05" fill="#000"/>
<circle cx="869.75" cy="686.3" r="3.05" fill="#fff"/>
<circle cx="873.1" cy="686.3" r="3.05" fill="#fff"/>
<circle cx="876.25" cy="686.3" r="3.05" fill="#fff"/>
<circle cx="885.5" cy="686.3" r="3.05" fill="#000"/>
<circle cx="891.2" cy="686.3" r="3.05" fill="#000"/>
<circle cx="892.6" cy="686.3" r="3.05" fill="#000"/>
<circle cx="897.1" cy="686.3" r="3.05" fill="#fff"/>
<circle cx="900.1" cy="686.3" r="3.05" fill="#fff"/>
<circle cx="908.3" cy="686.3" r="3.05" fill="#000"/>
<circle cx="911" cy="686.3" r="3.05" fill="#000"/>
<circle cx="919" cy="686.3" r="3.05" fill="#fff"/>
<circle cx="919.8" cy="686.3" r="3.05" fill="#fff"/>
<circle cx="922.2" cy="686.3" r="3.05" fill="#fff"/>
<circle cx="927.9" cy="686.3" r="3.05" fill="#000"/>
<circle cx="929.9" cy="686.3" r="3.05" fill="#fff"/>
<circle cx="932.8" cy="686.3" r="3.05" fill="#000"/>
<circle cx="932.8" cy="686.3" r="3.05" fill="#fff"/>
<circle cx="934.4" cy="686.3" r="3.05" fill="#fff"/>
<circle cx="936" cy="686.3" r="3.05" fill="#fff"/>
<circle cx="939.3" cy="686.3" r="3.05" fill="#000"/>
<circle cx="941.7" cy="686.3" r="3.05" fill="#fff"/>
<circle cx="952.6" cy="686.3" r="3.05" fill="#000"/>
<circle cx="955.5" cy="686.3" r="3.05" fill="#fff"/>
<circle cx="960.4" cy="686.3" r="3.05" fill="#000"/>
<circle cx="963.3" cy="686.3" r="3.05" fill="#fff"/>
<circle cx="966.6" cy="686.3" r="3.05" fill="#000"/>
<circle cx="968.5" cy="686.3" r="3.05" fill="#000"/>
<circle cx="974.2" cy="686.3" r="3.05" fill="#fff"/>
<circle cx="977.5" cy="686.3" r="3.05" fill="#000"/>
<circle cx="986.4" cy="686.3" r="3.05" fill="#fff"/>
<circle cx="992.9" cy="686.3" r="3.05" fill="#fff"/>
<circle cx="994.5" cy="686.3" r="3.05" fill="#fff"/>
<circle cx="1005.3" cy="686.3" r="3.05" fill="#000"/>
<circle cx="1009.5" cy="686.3" r="3.05" fill="#000"/>
<circle cx="1012.7" cy="686.3" r="3.05" fill="#000"/>
<circle cx="1015.2" cy="686.3" r="3.05" fill="#000"/>
<circle cx="1021.8" cy="686.3" r="3.05" fill="#fff"/>
<circle cx="1025.6" cy="686.3" r="3.05" fill="#fff"/>
<circle cx="1038.6" cy="686.3" r="3.05" fill="#000"/>
<circle cx="1040.6" cy="686.3" r="3.05" fill="#000"/>
<circle cx="1043.1" cy="686.3" r="3.05" fill="#000"/>
<circle cx="1056.1" cy="686.3" r="3.05" fill="#fff"/>
<circle cx="1060.2" cy="686.3" r="3.05" fill="#fff"/>
<circle cx="1065.8" cy="686.3" r="3.05" fill="#fff"/>
<circle cx="1071.1" cy="686.3" r="3.05" fill="#000"/>
<circle cx="1076.2" cy="686.3" r="3.05" fill="#000"/>
<circle cx="1081.1" cy="686.3" r="3.05" fill="#fff"/>
<circle cx="1083.8" cy="686.3" r="3.05" fill="#fff"/>
<circle cx="1086.8" cy="686.3" r="3.05" fill="#000"/>
<circle cx="1090.6" cy="686.3" r="3.05" fill="#000"/>
<circle cx="1095.9" cy="686.3" r="3.05" fill="#fff"/>
<circle cx="1098" cy="686.3" r="3.05" fill="#fff"/>
<circle cx="1103.3" cy="686.3" r="3.05" fill="#fff"/>
<circle cx="1106.4" cy="686.3" r="3.05" fill="#000"/>
<circle cx="1110" cy="686.3" r="3.05" fill="#fff"/>
<circle cx="1118.8" cy="686.3" r="3.05" fill="#000"/>
<circle cx="1121.8" cy="686.3" r="3.05" fill="#000"/>
<circle cx="1126.2" cy="686.3" r="3.05" fill="#000"/>
<circle cx="1131.4" cy="686.3" r="3.05" fill="#fff"/>
<circle cx="1135.4" cy="686.3" r="3.05" fill="#fff"/>
<circle cx="1138.9" cy="686.3" r="3.05" fill="#fff"/>
<circle cx="1142.8" cy="686.3" r="3.05" fill="#000"/>
<circle cx="1145.5" cy="686.3" r="3.05" fill="#000"/>
<circle cx="1146.6" cy="686.3" r="3.05" fill="#000"/>
<circle cx="1156.7" cy="686.3" r="3.05" fill="#fff"/>
<circle cx="1158.3" cy="686.3" r="3.05" fill="#fff"/>
<circle cx="1167.2" cy="686.3" r="3.05" fill="#000"/>
<circle cx="1170.4" cy="686.3" r="3.05" fill="#000"/>
<circle cx="1174.5" cy="686.3" r="3.05" fill="#000"/>
<circle cx="1181.6" cy="686.3" r="3.05" fill="#fff"/>
<circle cx="1185.8" cy="686.3" r="3.05" fill="#000"/>
<circle cx="1188.3" cy="686.3" r="3.05" fill="#000"/>
<circle cx="1191.2" cy="686.3" r="3.05" fill="#000"/>
<circle cx="1194.5" cy="686.3" r="3.05" fill="#fff"/>
<circle cx="1195.9" cy="686.3" r="3.05" fill="#fff"/>
<circle cx="1200.4" cy="686.3" r="3.05" fill="#000"/>
<circle cx="1202.6" cy="686.3" r="3.05" fill="#fff"/>
<circle cx="1205.4" cy="686.3" r="3.05" fill="#000"/>
</g>
<text class="l" transform="translate(144.3 714.5) rotate(-90)" text-anchor="middle">G150</text>
<text class="l" transform="translate(153.3 657.5) rotate(-90)" text-anchor="middle">G135</text>
<text class="l" transform="translate(159.8 714.5) rotate(-90)" text-anchor="middle">G180</text>
<text class="l" transform="translate(171.4 657.5) rotate(-90)" text-anchor="middle">H2O2</text>
<text class="l" transform="translate(180.3 714.5) rotate(-90)" text-anchor="middle">Paraq</text>
<text class="l" transform="translate(188.3 657.5) rotate(-90)" text-anchor="middle">Oxctl</text>
<text class="l" transform="translate(198.3 714.5) rotate(-90)" text-anchor="middle">LBGexp</text>
<text class="l" transform="translate(210.8 657.5) rotate(-90)" text-anchor="middle">dia15</text>
<text class="l" transform="translate(226.8 714.5) rotate(-90)" text-anchor="middle">Diami</text>
<text class="l" transform="translate(237.3 657.5) rotate(-90)" text-anchor="middle">dia5</text>
<text class="l" transform="translate(255.8 714.5) rotate(-90)" text-anchor="middle">C90</text>
<text class="l" transform="translate(267.3 657.5) rotate(-90)" text-anchor="middle">C30</text>
<text class="l" transform="translate(282.3 714.5) rotate(-90)" text-anchor="middle">Cold</text>
<text class="l" transform="translate(296.3 657.5) rotate(-90)" text-anchor="middle">LPh</text>
<text class="l" transform="translate(304.3 714.5) rotate(-90)" text-anchor="middle">HPh</text>
<text class="l" transform="translate(315.3 657.5) rotate(-90)" text-anchor="middle">aero</text>
<text class="l" transform="translate(331.8 714.5) rotate(-90)" text-anchor="middle">nit</text>
<text class="l" transform="translate(343.3 657.5) rotate(-90)" text-anchor="middle">ferm</text>
<text class="l" transform="translate(360.8 714.5) rotate(-90)" text-anchor="middle">GM+150</text>
<text class="l" transform="translate(367.3 657.5) rotate(-90)" text-anchor="middle">M9−tran</text>
<text class="l" transform="translate(375.55 714.5) rotate(-90)" text-anchor="middle">MG+150</text>
<text class="l" transform="translate(383.55 657.5) rotate(-90)" text-anchor="middle">MG+120</text>
<text class="l" transform="translate(550.3 714.5) rotate(-90)" text-anchor="middle">M/G</text>
<text class="l" transform="translate(563.8 657.5) rotate(-90)" text-anchor="middle">Mal</text>
<text class="l" transform="translate(574.8 714.5) rotate(-90)" text-anchor="middle">Fru</text>
<text class="l" transform="translate(581.8 657.5) rotate(-90)" text-anchor="middle">Glu</text>
<text class="l" transform="translate(590.8 714.5) rotate(-90)" text-anchor="middle">SMM</text>
<text class="l" transform="translate(598.8 657.5) rotate(-90)" text-anchor="middle">BMM</text>
<text class="l" transform="translate(609.3 714.5) rotate(-90)" text-anchor="middle">Heat</text>
<text class="l" transform="translate(624.8 657.5) rotate(-90)" text-anchor="middle">Etha</text>
<text class="l" transform="translate(640.8 714.5) rotate(-90)" text-anchor="middle">Salt</text>
<text class="l" transform="translate(653.8 657.5) rotate(-90)" text-anchor="middle">Gly</text>
<text class="l" transform="translate(668.8 714.5) rotate(-90)" text-anchor="middle">HiTm</text>
<text class="l" transform="translate(687.3 657.5) rotate(-90)" text-anchor="middle">HiOs</text>
<text class="l" transform="translate(700.8 714.5) rotate(-90)" text-anchor="middle">S1</text>
<text class="l" transform="translate(713.8 657.5) rotate(-90)" text-anchor="middle">S2</text>
<text class="l" transform="translate(729.8 714.5) rotate(-90)" text-anchor="middle">S3</text>
<text class="l" transform="translate(742.3 657.5) rotate(-90)" text-anchor="middle">S4</text>
<text class="l" transform="translate(752.3 714.5) rotate(-90)" text-anchor="middle">S3</text>
<text class="l" transform="translate(760.8 657.5) rotate(-90)" text-anchor="middle">S5</text>
<text class="l" transform="translate(770.8 714.5) rotate(-90)" text-anchor="middle">S6</text>
<text class="l" transform="translate(789.8 657.5) rotate(-90)" text-anchor="middle">S7</text>
<text class="l" transform="translate(797.3 714.5) rotate(-90)" text-anchor="middle">S8</text>
<text class="l" transform="translate(816.8 657.5) rotate(-90)" text-anchor="middle">S6</text>
<text class="l" transform="translate(837.3 714.5) rotate(-90)" text-anchor="middle">BT</text>
<text class="l" transform="translate(849.5 657.5) rotate(-90)" text-anchor="middle">B36</text>
<text class="l" transform="translate(858.5 714.5) rotate(-90)" text-anchor="middle">B60</text>
<text class="l" transform="translate(875.4 657.5) rotate(-90)" text-anchor="middle">LoTm</text>
<text class="l" transform="translate(889.3 714.5) rotate(-90)" text-anchor="middle">Pyr</text>
<text class="l" transform="translate(901.8 657.5) rotate(-90)" text-anchor="middle">G/S</text>
<text class="l" transform="translate(913.1 714.5) rotate(-90)" text-anchor="middle">Glucon</text>
<text class="l" transform="translate(923.5 657.5) rotate(-90)" text-anchor="middle">SMMPr</text>
<text class="l" transform="translate(932.4 714.5) rotate(-90)" text-anchor="middle">T−5.40H</text>
<text class="l" transform="translate(933.8 657.5) rotate(-90)" text-anchor="middle">T−4.40H</text>
<text class="l" transform="translate(935.4 714.5) rotate(-90)" text-anchor="middle">T−3.40H</text>
<text class="l" transform="translate(938.3 657.5) rotate(-90)" text-anchor="middle">T−2.40H</text>
<text class="l" transform="translate(939.8 714.5) rotate(-90)" text-anchor="middle">T−1.40H</text>
<text class="l" transform="translate(942.8 657.5) rotate(-90)" text-anchor="middle">T−1.10H</text>
<text class="l" transform="translate(944.3 714.5) rotate(-90)" text-anchor="middle">T−0.40H</text>
<text class="l" transform="translate(947.2 657.5) rotate(-90)" text-anchor="middle">T0.0H</text>
<text class="l" transform="translate(956.8 714.5) rotate(-90)" text-anchor="middle">T0.30H</text>
<text class="l" transform="translate(960.6 657.5) rotate(-90)" text-anchor="middle">T1.0H</text>
<text class="l" transform="translate(963.6 714.5) rotate(-90)" text-anchor="middle">T1.30H</text>
<text class="l" transform="translate(967.8 657.5) rotate(-90)" text-anchor="middle">T2.0H</text>
<text class="l" transform="translate(970.8 714.5) rotate(-90)" text-anchor="middle">T2.30H</text>
<text class="l" transform="translate(974.6 657.5) rotate(-90)" text-anchor="middle">T3.0H</text>
<text class="l" transform="translate(976.8 714.5) rotate(-90)" text-anchor="middle">T3.30H</text>
<text class="l" transform="translate(979.8 657.5) rotate(-90)" text-anchor="middle">T4.0H</text>
<text class="l" transform="translate(982.8 714.5) rotate(-90)" text-anchor="middle">T5.0H</text>
<text class="l" transform="translate(992.4 657.5) rotate(-90)" text-anchor="middle">M9−stat</text>
<text class="l" transform="translate(1010.5 714.5) rotate(-90)" text-anchor="middle">BC</text>
<text class="l" transform="translate(1028.3 657.5) rotate(-90)" text-anchor="middle">Sw</text>
<text class="l" transform="translate(1043.8 714.5) rotate(-90)" text-anchor="middle">LPhT</text>
<text class="l" transform="translate(1060.8 657.5) rotate(-90)" text-anchor="middle">LBGstat</text>
<text class="l" transform="translate(1076.8 714.5) rotate(-90)" text-anchor="middle">LBGtran</text>
<text class="l" transform="translate(1086.2 657.5) rotate(-90)" text-anchor="middle">M0t45</text>
<text class="l" transform="translate(1091.8 714.5) rotate(-90)" text-anchor="middle">M40t45</text>
<text class="l" transform="translate(1100.8 657.5) rotate(-90)" text-anchor="middle">Lbtran</text>
<text class="l" transform="translate(1110.5 714.5) rotate(-90)" text-anchor="middle">Mt0</text>
<text class="l" transform="translate(1114.8 657.5) rotate(-90)" text-anchor="middle">M40t45</text>
<text class="l" transform="translate(1123.3 714.5) rotate(-90)" text-anchor="middle">M40t90</text>
<text class="l" transform="translate(1137.3 657.5) rotate(-90)" text-anchor="middle">M0t90</text>
<text class="l" transform="translate(1148.2 714.5) rotate(-90)" text-anchor="middle">Lbstat</text>
<text class="l" transform="translate(1161.8 657.5) rotate(-90)" text-anchor="middle">BI</text>
<text class="l" transform="translate(1171.8 714.5) rotate(-90)" text-anchor="middle">S0</text>
<text class="l" transform="translate(1187.8 657.5) rotate(-90)" text-anchor="middle">M0t45</text>
<text class="l" transform="translate(1191.6 714.5) rotate(-90)" text-anchor="middle">dia0</text>
<text class="l" transform="translate(1200.2 657.5) rotate(-90)" text-anchor="middle">Lbexp</text>
<text class="l" transform="translate(1206.1 714.5) rotate(-90)" text-anchor="middle">Mt0</text>
<text class="l" transform="translate(1208.5 657.5) rotate(-90)" text-anchor="middle">Lbexp</text>
<text class="l" transform="translate(1210.6 714.5) rotate(-90)" text-anchor="middle">Mt0</text>
<text class="l" transform="translate(392.8 714.5) rotate(-90)" text-anchor="middle">MG+90</text>
<text class="l" transform="translate(399.2 714.5) rotate(-90)" text-anchor="middle">MG+90</text>
<text class="l" transform="translate(403.55 714.5) rotate(-90)" text-anchor="middle">MG+45</text>
<text class="l" transform="translate(407.9 714.5) rotate(-90)" text-anchor="middle">MG+45</text>
<text class="l" transform="translate(413.55 714.5) rotate(-90)" text-anchor="middle">MG+25</text>
<text class="l" transform="translate(418.55 714.5) rotate(-90)" text-anchor="middle">MG+15</text>
<text class="l" transform="translate(424.2 714.5) rotate(-90)" text-anchor="middle">MG+15</text>
<text class="l" transform="translate(429.8 714.5) rotate(-90)" text-anchor="middle">MG+10</text>
<text class="l" transform="translate(432.8 714.5) rotate(-90)" text-anchor="middle">MG+t5</text>
<text class="l" transform="translate(441.8 714.5) rotate(-90)" text-anchor="middle">MG−0.1</text>
<text class="l" transform="translate(449.8 714.5) rotate(-90)" text-anchor="middle">UNK1</text>
<text class="l" transform="translate(459.8 714.5) rotate(-90)" text-anchor="middle">Glucon</text>
<text class="l" transform="translate(467 714.5) rotate(-90)" text-anchor="middle">GM−0.1</text>
<text class="l" transform="translate(475.6 714.5) rotate(-90)" text-anchor="middle">GM−0.1</text>
<text class="l" transform="translate(479.8 714.5) rotate(-90)" text-anchor="middle">GM+10</text>
<text class="l" transform="translate(484.2 714.5) rotate(-90)" text-anchor="middle">GM+15</text>
<text class="l" transform="translate(488 714.5) rotate(-90)" text-anchor="middle">GM+25</text>
<text class="l" transform="translate(491.9 714.5) rotate(-90)" text-anchor="middle">GM+25</text>
<text class="l" transform="translate(495.3 714.5) rotate(-90)" text-anchor="middle">GM+45</text>
<text class="l" transform="translate(498.8 714.5) rotate(-90)" text-anchor="middle">GM+45</text>
<text class="l" transform="translate(504.8 714.5) rotate(-90)" text-anchor="middle">GM+120</text>
<text class="l" transform="translate(511.7 714.5) rotate(-90)" text-anchor="middle">GM+120</text>
<text class="l" transform="translate(521.1 714.5) rotate(-90)" text-anchor="middle">GM+90</text>
<text class="l" transform="translate(525.4 714.5) rotate(-90)" text-anchor="middle">GM+25</text>
<text class="l" transform="translate(528.8 714.5) rotate(-90)" text-anchor="middle">GM+45</text>
<text class="l" transform="translate(535.8 714.5) rotate(-90)" text-anchor="middle">GM+5</text>
<text class="l" transform="translate(397.3 657.5) rotate(-90)" text-anchor="middle">MG+60</text>
<text class="l" transform="translate(401.05 657.5) rotate(-90)" text-anchor="middle">MG+60</text>
<text class="l" transform="translate(405.4 657.5) rotate(-90)" text-anchor="middle">MG+60</text>
<text class="l" transform="translate(409.8 657.5) rotate(-90)" text-anchor="middle">MG+25</text>
<text class="l" transform="translate(413.8 657.5) rotate(-90)" text-anchor="middle">MG+5</text>
<text class="l" transform="translate(417.3 657.5) rotate(-90)" text-anchor="middle">MG+10</text>
<text class="l" transform="translate(420.4 657.5) rotate(-90)" text-anchor="middle">MG+5</text>
<text class="l" transform="translate(426.7 657.5) rotate(-90)" text-anchor="middle">MG+5</text>
<text class="l" transform="translate(432.3 657.5) rotate(-90)" text-anchor="middle">MG+t5</text>
<text class="l" transform="translate(436.05 657.5) rotate(-90)" text-anchor="middle">MG+5</text>
<text class="l" transform="translate(444.8 657.5) rotate(-90)" text-anchor="middle">MG−0.2</text>
<text class="l" transform="translate(453.5 657.5) rotate(-90)" text-anchor="middle">Fru</text>
<text class="l" transform="translate(463.8 657.5) rotate(-90)" text-anchor="middle">GM−0.2</text>
<text class="l" transform="translate(469.8 657.5) rotate(-90)" text-anchor="middle">GM−0.2</text>
<text class="l" transform="translate(478.55 657.5) rotate(-90)" text-anchor="middle">GM+5</text>
<text class="l" transform="translate(482.5 657.5) rotate(-90)" text-anchor="middle">GM+10</text>
<text class="l" transform="translate(487.1 657.5) rotate(-90)" text-anchor="middle">GM+15</text>
<text class="l" transform="translate(492.6 657.5) rotate(-90)" text-anchor="middle">GM+15</text>
<text class="l" transform="translate(497.3 657.5) rotate(-90)" text-anchor="middle">GM+60</text>
<text class="l" transform="translate(502 657.5) rotate(-90)" text-anchor="middle">GM+90</text>
<text class="l" transform="translate(508.2 657.5) rotate(-90)" text-anchor="middle">GM+90</text>
<text class="l" transform="translate(514.5 657.5) rotate(-90)" text-anchor="middle">GM+150</text>
<text class="l" transform="translate(523.8 657.5) rotate(-90)" text-anchor="middle">GM+60</text>
<text class="l" transform="translate(528.55 657.5) rotate(-90)" text-anchor="middle">GM+60</text>
<text class="l" transform="translate(532.5 657.5) rotate(-90)" text-anchor="middle">GM+45</text>
<text class="l" transform="translate(540.3 657.5) rotate(-90)" text-anchor="middle">M9−exp</text>
</svg></body></html>
